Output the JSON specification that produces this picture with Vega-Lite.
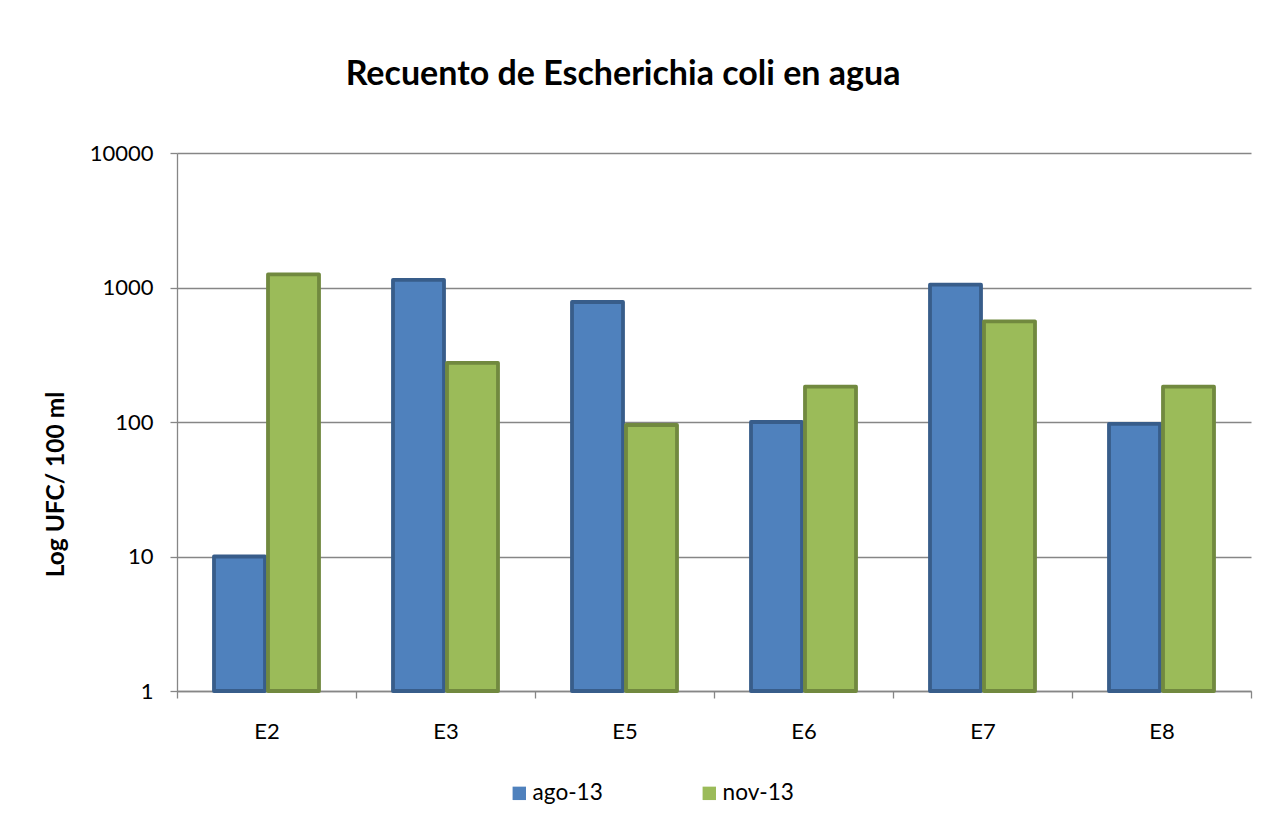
{
  "$schema": "https://vega.github.io/schema/vega-lite/v6.json",
  "width": 1074,
  "height": 538,
  "autosize": {"type": "none"},
  "padding": {"left": 177, "top": 153, "right": 27, "bottom": 147},
  "background": "white",
  "config": {"view": {"stroke": null}, "font": "Lato"},
  "title": {
    "text": "Recuento de Escherichia coli en agua",
    "font": "Lato",
    "fontSize": 34,
    "fontWeight": "bold",
    "color": "black",
    "anchor": "middle",
    "frame": "group",
    "dx": -91,
    "baseline": "alphabetic",
    "offset": 23
  },
  "data": {
    "values": [
      {"estacion": "E2", "fecha": "ago-13", "ufc": 10},
      {"estacion": "E2", "fecha": "nov-13", "ufc": 1250},
      {"estacion": "E3", "fecha": "ago-13", "ufc": 1140},
      {"estacion": "E3", "fecha": "nov-13", "ufc": 275},
      {"estacion": "E5", "fecha": "ago-13", "ufc": 780},
      {"estacion": "E5", "fecha": "nov-13", "ufc": 95},
      {"estacion": "E6", "fecha": "ago-13", "ufc": 100},
      {"estacion": "E6", "fecha": "nov-13", "ufc": 183},
      {"estacion": "E7", "fecha": "ago-13", "ufc": 1050},
      {"estacion": "E7", "fecha": "nov-13", "ufc": 560},
      {"estacion": "E8", "fecha": "ago-13", "ufc": 97},
      {"estacion": "E8", "fecha": "nov-13", "ufc": 183}
    ]
  },
  "mark": {"type": "bar", "strokeWidth": 3.8, "strokeJoin": "round"},
  "encoding": {
    "x": {
      "field": "estacion",
      "type": "nominal",
      "sort": null,
      "scale": {"paddingInner": 0, "paddingOuter": 0},
      "axis": {
        "title": null,
        "labelAngle": 0,
        "labelFont": "Lato",
        "labelFontSize": 22,
        "labelColor": "black",
        "labelPadding": 23,
        "tickBand": "extent",
        "tickSize": 7,
        "tickColor": "#868686",
        "tickWidth": 1.3,
        "domainColor": "#868686",
        "domainWidth": 1.3,
        "grid": false
      }
    },
    "xOffset": {
      "field": "fecha",
      "type": "nominal",
      "sort": ["ago-13", "nov-13"],
      "scale": {"paddingInner": 0.0556, "paddingOuter": 0.685}
    },
    "y": {
      "field": "ufc",
      "type": "quantitative",
      "scale": {"type": "log", "domain": [1, 10000], "nice": false},
      "axis": {
        "values": [1, 10, 100, 1000, 10000],
        "format": "d",
        "title": "Log UFC/ 100 ml",
        "titleFont": "Lato",
        "titleFontSize": 24.5,
        "titleFontWeight": "bold",
        "titleColor": "black",
        "titleAngle": -90,
        "titleAlign": "center",
        "titleBaseline": "alphabetic",
        "titleX": -114,
        "titleY": 331,
        "labelFont": "Lato",
        "labelFontSize": 22,
        "labelColor": "black",
        "labelPadding": 17,
        "tickSize": 7,
        "tickColor": "#868686",
        "tickWidth": 1.3,
        "domainColor": "#868686",
        "domainWidth": 1.3,
        "grid": true,
        "gridColor": "#868686",
        "gridWidth": 1.3
      }
    },
    "y2": {"datum": 1},
    "color": {
      "field": "fecha",
      "type": "nominal",
      "scale": {"domain": ["ago-13", "nov-13"], "range": ["#4F81BD", "#9BBB59"]},
      "legend": {
        "orient": "none",
        "legendX": 331,
        "legendY": 629,
        "direction": "horizontal",
        "columns": 2,
        "columnPadding": 95,
        "title": null,
        "symbolType": "square",
        "symbolSize": 180,
        "symbolStrokeWidth": 0,
        "labelFont": "Lato",
        "labelFontSize": 22.6,
        "labelColor": "black",
        "labelOffset": 2,
        "padding": 0
      }
    },
    "stroke": {
      "field": "fecha",
      "type": "nominal",
      "scale": {"domain": ["ago-13", "nov-13"], "range": ["#385D8A", "#71893F"]},
      "legend": null
    }
  }
}
